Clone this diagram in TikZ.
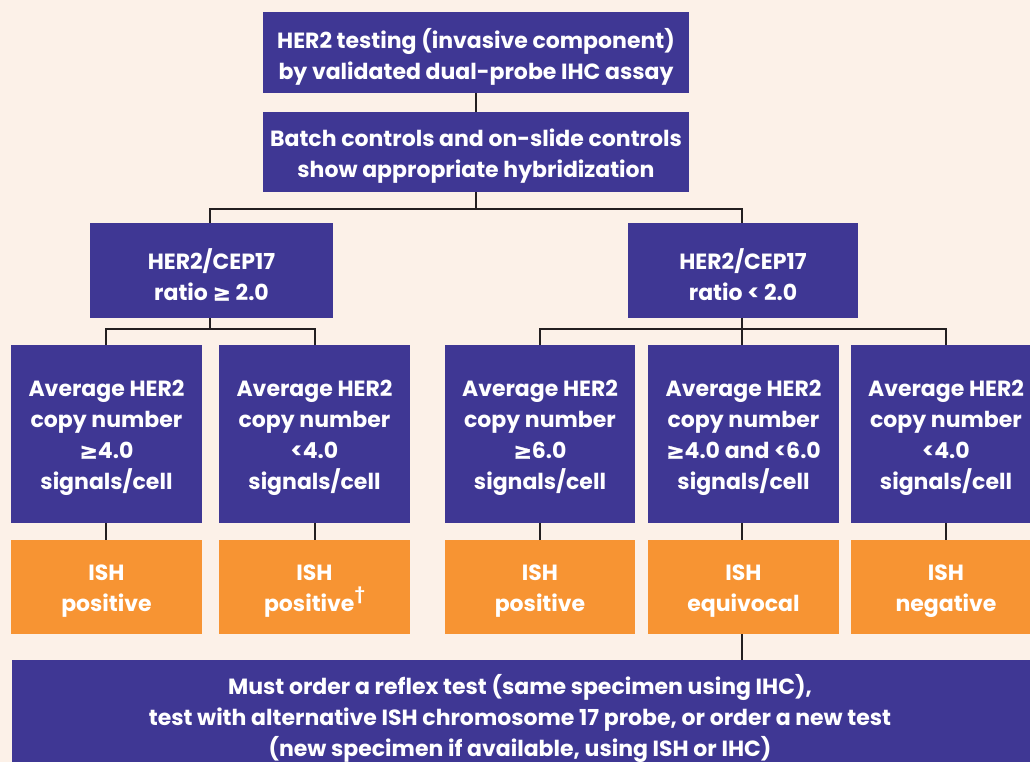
\documentclass[tikz,border=0pt]{standalone}
\usepackage{fontspec}
\setmainfont{Poppins}
\newfontfamily\symf{DejaVu Sans}[FakeBold=1.5]
\newcommand{\gesym}{{\symf ≥}}
\definecolor{bg}{HTML}{FCF1E8}
\definecolor{purp}{HTML}{3F3794}
\definecolor{orng}{HTML}{F79433}
\definecolor{ln}{HTML}{231F20}
\tikzset{
  box/.style={fill=purp, inner sep=0pt},
  obox/.style={fill=orng, inner sep=0pt},
  txt/.style={text=white, align=center, inner sep=0pt, font=\fontsize{22}{31}\selectfont\bfseries},
  conn/.style={draw=ln, line width=2pt}
}
% \bx{name}{x}{y}{w}{h}{style}{text}
\newcommand{\bx}[7]{%
  \node[#6, minimum width=#4, minimum height=#5] (#1) at (#2,#3) {};
  \node[txt] (#1-t) at ([yshift=-4pt]#1.center) {#7};
}
\begin{document}
\begin{tikzpicture}[x=1pt,y=-1pt]
\fill[bg] (0,0) rectangle (1030,762);
\useasboundingbox (0,0) rectangle (1030,762);
\begin{scope}
\clip (0,0) rectangle (1030,762);
\coordinate (b0) at (476,209);
\coordinate (bl) at (210,209);
\coordinate (br) at (742,209);
\coordinate (l0) at (210,329);
\coordinate (ll) at (106,329);
\coordinate (lr) at (315,329);
\coordinate (r0) at (742,329);
\coordinate (rl) at (540,329);
\coordinate (rr) at (946,329);

\bx{top}{476}{52.5}{426}{81}{box}{HER2 testing (invasive component)\\by validated dual-probe IHC assay}
\bx{batch}{476}{152}{426}{80}{box}{Batch controls and on-slide controls\\show appropriate hybridization}
\bx{lhs}{211.5}{270.5}{243}{95}{box}{HER2/CEP17\\ratio \gesym\ 2.0}
\bx{rhs}{743}{270.5}{230}{95}{box}{HER2/CEP17\\ratio < 2.0}

\bx{c1}{106.5}{434}{191}{178}{box}{Average HER2\\copy number\\\gesym4.0\\signals/cell}
\bx{c2}{314.5}{434}{191}{178}{box}{Average HER2\\copy number\\<4.0\\signals/cell}
\bx{c3}{540}{434}{190}{178}{box}{Average HER2\\copy number\\\gesym6.0\\signals/cell}
\bx{c4}{743.5}{434}{191}{178}{box}{Average HER2\\copy number\\\gesym4.0 and <6.0\\signals/cell}
\bx{c5}{946}{434}{191}{178}{box}{Average HER2\\copy number\\<4.0\\signals/cell}

\bx{o1}{106.5}{587}{191}{94}{obox}{ISH\\positive}
\bx{o2}{314.5}{587}{191}{94}{obox}{ISH\\positive\raisebox{0.55em}{\fontsize{16}{16}\selectfont †}}
\bx{o3}{540}{587}{190}{94}{obox}{ISH\\positive}
\bx{o4}{743.5}{587}{191}{94}{obox}{ISH\\equivocal}
\bx{o5}{946}{587}{191}{94}{obox}{ISH\\negative}

\node[box, minimum width=1030, minimum height=110] (bot) at (527,715) {};
\node[txt] (bot-t) at (520,718) {Must order a reflex test (same specimen using IHC),\\test with alternative ISH chromosome 17 probe, or order a new test\\(new specimen if available, using ISH or IHC)};

\draw[conn] (top) -- (batch);
\draw[conn] (batch.south) -- (b0);
\draw[conn] (lhs.north -| bl) -- (bl) -- (br) -- (rhs.north -| br);
\draw[conn] (lhs.south -| l0) -- (l0);
\draw[conn] (c1.north -| ll) -- (ll) -- (lr) -- (c2.north -| lr);
\draw[conn] (rhs.south -| r0) -- (r0);
\draw[conn] (c3.north -| rl) -- (rl) -- (rr) -- (c5.north -| rr);
\draw[conn] (r0) -- (c4.north -| r0);
\draw[conn] (c1.south -| ll) -- (o1.north -| ll);
\draw[conn] (c2.south -| lr) -- (o2.north -| lr);
\draw[conn] (c3.south -| rl) -- (o3.north -| rl);
\draw[conn] (c4.south -| r0) -- (o4.north -| r0);
\draw[conn] (c5.south -| rr) -- (o5.north -| rr);
\draw[conn] (o4.south -| r0) -- (bot.north -| r0);
\end{scope}
\end{tikzpicture}
\end{document}
